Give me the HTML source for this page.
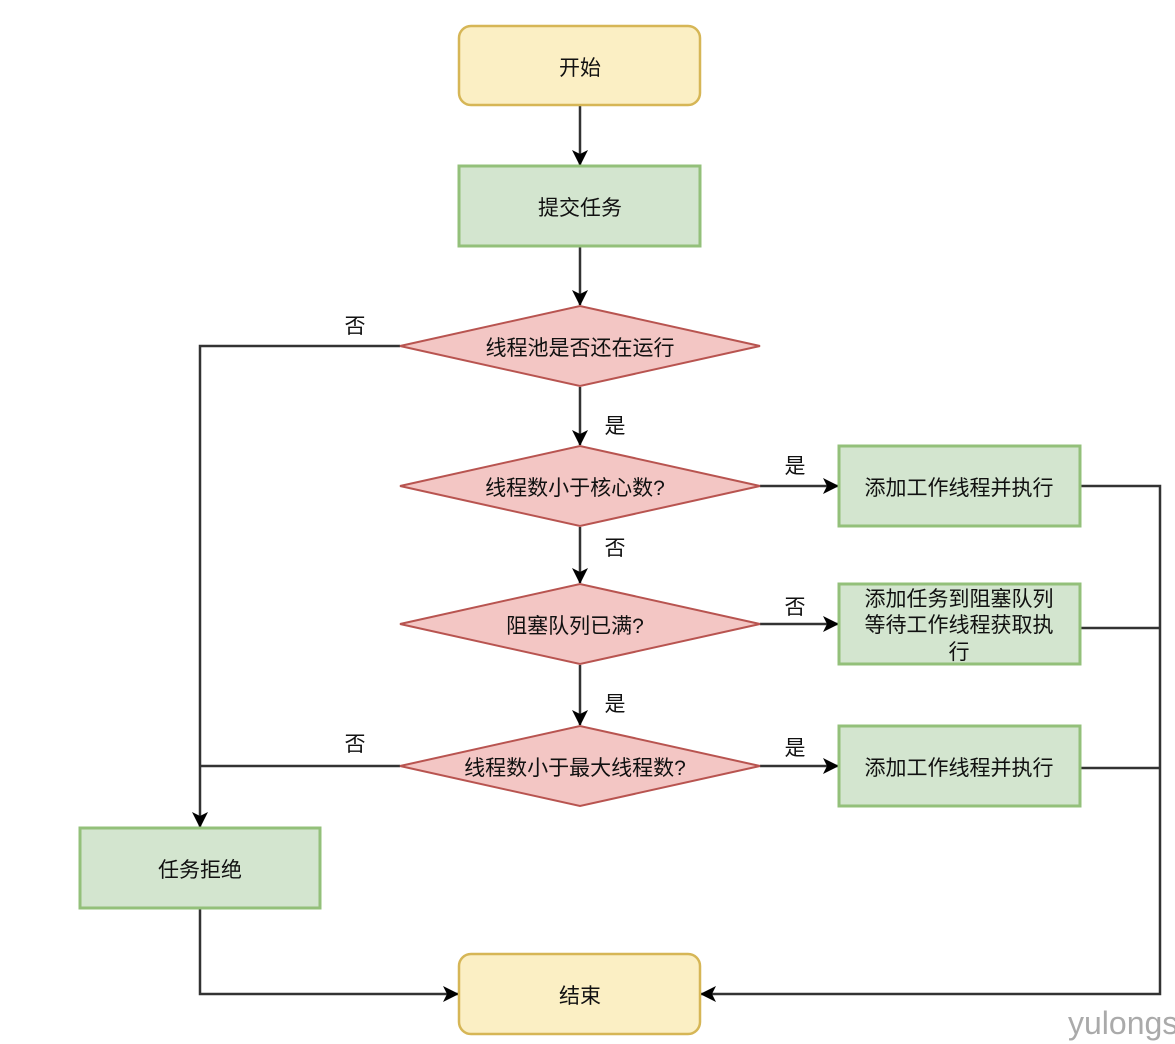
<!DOCTYPE html>
<html><head><meta charset="utf-8"><style>
html,body{margin:0;padding:0;background:#fff;width:1175px;height:1044px;overflow:hidden}
text{font-family:"Liberation Sans","Noto Sans CJK SC",sans-serif;font-size:21px;fill:#111}
</style></head><body>
<svg width="1175" height="1044" viewBox="0 0 1175 1044" xmlns="http://www.w3.org/2000/svg">
<defs>
<marker id="b" markerWidth="16" markerHeight="16" refX="15" refY="8" orient="auto" markerUnits="userSpaceOnUse"><path d="M0,0 L16,8 L0,16 L4,8 Z" fill="#000"/></marker></defs>
<g fill="none" stroke="#333" stroke-width="2.5">
<path d="M580,106 V165" marker-end="url(#b)"/>
<path d="M580,247 V305" marker-end="url(#b)"/>
<path d="M580,387 V445" marker-end="url(#b)"/>
<path d="M580,527 V583" marker-end="url(#b)"/>
<path d="M580,665 V725" marker-end="url(#b)"/>
<path d="M400,346 H200 V827" marker-end="url(#b)"/>
<path d="M400,766 H200"/>
<path d="M760,486 H838" marker-end="url(#b)"/>
<path d="M760,624 H838" marker-end="url(#b)"/>
<path d="M760,766 H838" marker-end="url(#b)"/>
<path d="M1081,486 H1160 V994 H701" marker-end="url(#b)"/>
<path d="M1081,628 H1160"/>
<path d="M1081,768 H1160"/>
<path d="M200,909 V994 H458" marker-end="url(#b)"/>
</g>
<rect x="459" y="26" width="241" height="79" rx="12" fill="#fbefc4" stroke="#d6b656" stroke-width="2.5"/>
<rect x="459" y="166" width="241" height="80" fill="#d3e5cf" stroke="#93c07a" stroke-width="3"/>
<polygon points="400,346 580,306 760,346 580,386" fill="#f3c6c4" stroke="#b85450" stroke-width="2"/>
<polygon points="400,486 580,446 760,486 580,526" fill="#f3c6c4" stroke="#b85450" stroke-width="2"/>
<polygon points="400,624 580,584 760,624 580,664" fill="#f3c6c4" stroke="#b85450" stroke-width="2"/>
<polygon points="400,766 580,726 760,766 580,806" fill="#f3c6c4" stroke="#b85450" stroke-width="2"/>
<rect x="839" y="446" width="241" height="80" fill="#d3e5cf" stroke="#93c07a" stroke-width="3"/>
<rect x="839" y="584" width="241" height="80" fill="#d3e5cf" stroke="#93c07a" stroke-width="3"/>
<rect x="839" y="726" width="241" height="80" fill="#d3e5cf" stroke="#93c07a" stroke-width="3"/>
<rect x="80" y="828" width="240" height="80" fill="#d3e5cf" stroke="#93c07a" stroke-width="3"/>
<rect x="459" y="954" width="241" height="80" rx="12" fill="#fbefc4" stroke="#d6b656" stroke-width="2.5"/>
<g text-anchor="middle">
<text x="580" y="75">开始</text>
<text x="580" y="215">提交任务</text>
<text x="580" y="355">线程池是否还在运行</text>
<text x="575" y="495">线程数小于核心数?</text>
<text x="575" y="633">阻塞队列已满?</text>
<text x="575" y="775">线程数小于最大线程数?</text>
<text x="959" y="495">添加工作线程并执行</text>
<text x="959" y="606">添加任务到阻塞队列</text>
<text x="959" y="632">等待工作线程获取执</text>
<text x="959" y="659">行</text>
<text x="959" y="775">添加工作线程并执行</text>
<text x="200" y="877">任务拒绝</text>
<text x="580" y="1003">结束</text>
<text x="355" y="333">否</text>
<text x="355" y="751">否</text>
<text x="615" y="433">是</text>
<text x="615" y="555">否</text>
<text x="615" y="711">是</text>
<text x="795" y="473">是</text>
<text x="795" y="614">否</text>
<text x="795" y="755">是</text>
</g>
<text x="1068" y="1034" style="font-size:32px;fill:#aaa">yulongs</text>
</svg>
</body></html>
